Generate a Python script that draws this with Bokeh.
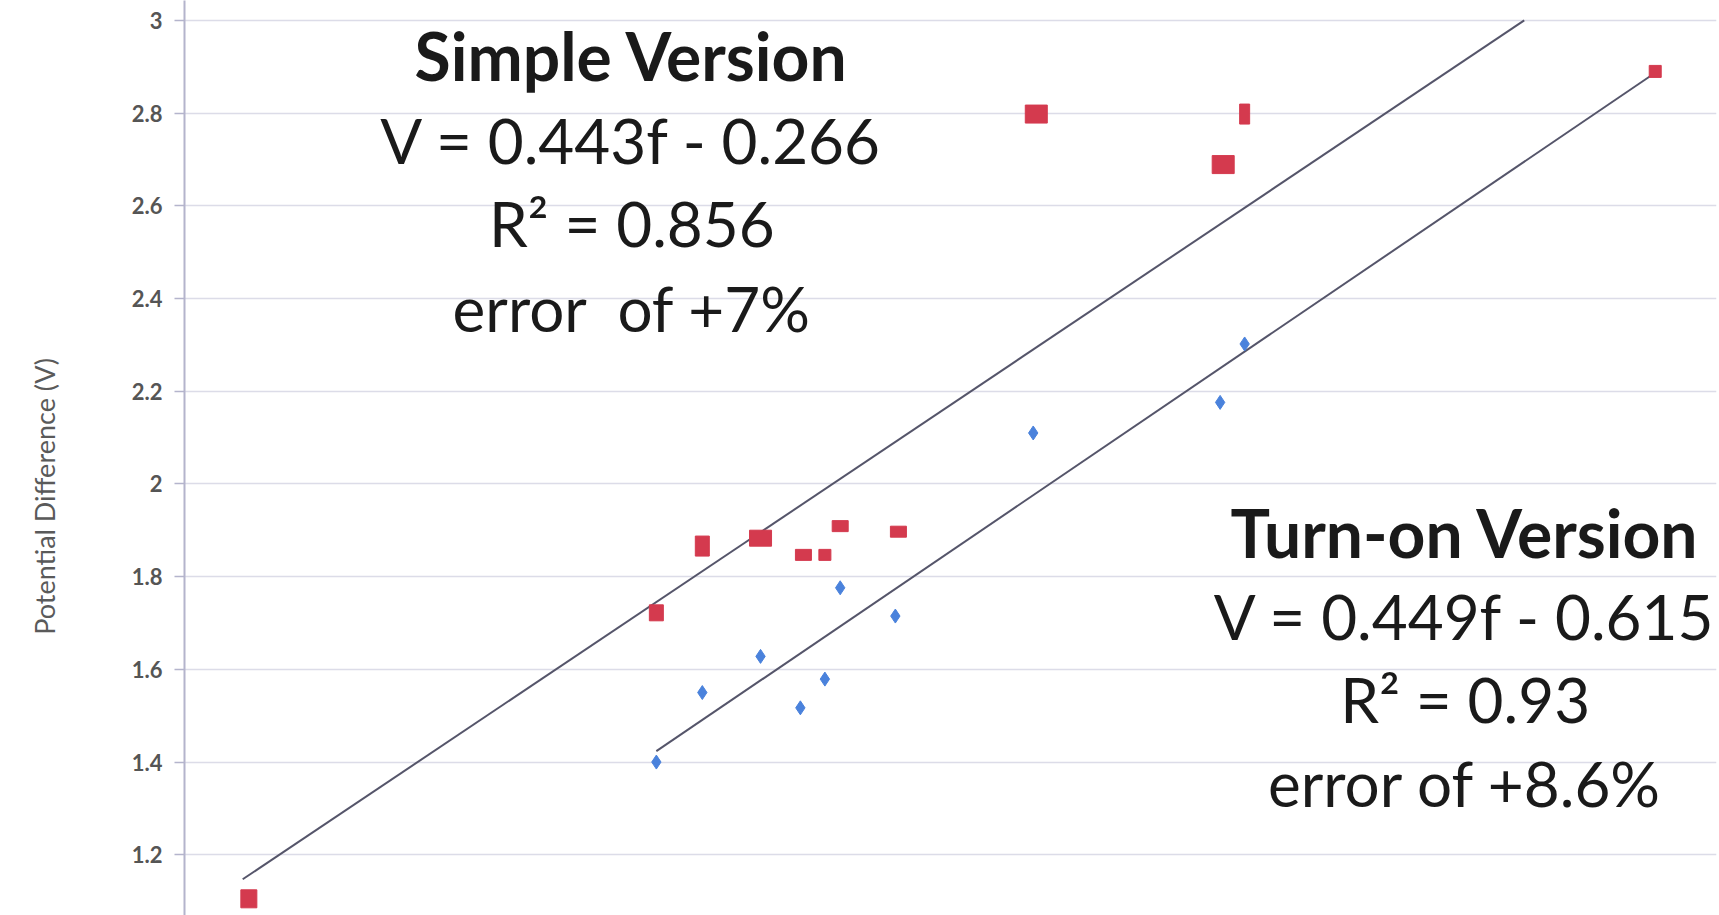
from bokeh.plotting import figure
from bokeh.layouts import row
from bokeh.models import Range1d, Label, ColumnDataSource, FixedTicker
from bokeh.embed import file_html
from bokeh.resources import INLINE
import math

# ---- data (frequency f, potential difference V) ----
simple_f = [3.21, 4.54, 4.69, 4.88, 5.02, 5.09, 5.14, 5.33, 5.78, 6.39, 6.46, 7.80]
simple_v = [1.105, 1.722, 1.866, 1.883, 1.847, 1.847, 1.909, 1.897, 2.798, 2.689, 2.798, 2.890]

turnon_f = [4.54, 4.69, 4.88, 5.01, 5.09, 5.14, 5.32, 5.77, 6.38, 6.46]
turnon_v = [1.400, 1.550, 1.628, 1.517, 1.579, 1.776, 1.715, 2.110, 2.176, 2.302]

# trendline equations shown on the chart
simple_slope, simple_icpt = 0.443, -0.266
turnon_slope, turnon_icpt = 0.449, -0.615
fit_f_min = {"simple": 3.19, "turnon": 4.54}
fit_f_max = 7.80
v_axis_max = 3.0

y_ticks = [1.2, 1.4, 1.6, 1.8, 2.0, 2.2, 2.4, 2.6, 2.8, 3.0]
y_tick_labels = ["1.2", "1.4", "1.6", "1.8", "2", "2.2", "2.4", "2.6", "2.8", "3"]

simple_text = ["Simple Version", "V = 0.443f - 0.266", "R\u00b2 = 0.856", "error\u00a0 of +7%"]
turnon_text = ["Turn-on Version", "V = 0.449f - 0.615", "R\u00b2 = 0.93", "error of +8.6%"]
y_label = "Potential Difference (V)"

# ---- styles ----
red_w = [16, 14, 14, 22, 16, 12, 16, 16, 22, 22, 10, 12]
red_h = [18, 16, 20, 16, 11, 11, 11, 11, 18, 18, 20, 12]

LEFT_W = 100
y_range = Range1d(1.069, 3.043)

p = figure(width=1719 - LEFT_W, height=915, output_backend="svg", toolbar_location=None,
           x_range=Range1d(3.0, 8.0), y_range=y_range,
           min_border_left=184 - LEFT_W, min_border_right=3, min_border_top=0, min_border_bottom=0)
p.outline_line_color = None
p.background_fill_color = "white"
p.border_fill_color = "white"

p.xaxis.visible = False
p.xgrid.visible = False
p.ygrid.grid_line_color = "#dcdce8"
p.ygrid.grid_line_width = 1.5

ya = p.yaxis[0]
ya.ticker = FixedTicker(ticks=y_ticks)
ya.major_label_overrides = {t: s for t, s in zip(y_ticks, y_tick_labels)}
ya.axis_line_color = "#b4b4cc"
ya.axis_line_width = 2
ya.major_tick_line_color = "#b4b4cc"
ya.major_tick_line_width = 1.5
ya.major_tick_out = 10
ya.major_tick_in = 0
ya.minor_tick_line_color = None
ya.major_label_text_font = "Lato"
ya.major_label_text_font_size = "22px"
ya.major_label_text_font_style = "bold"
ya.major_label_text_color = "#555555"
ya.major_label_standoff = 12

# trendlines (clipped at the top of the value axis)
def fit_line(slope, icpt, fmin):
    fmax = min(fit_f_max, (v_axis_max - icpt) / slope)
    fs = [fmin, fmax]
    return fs, [slope * f + icpt for f in fs]

xs, ys = fit_line(simple_slope, simple_icpt, fit_f_min["simple"])
p.line(xs, ys, line_color="#55556a", line_width=2)
xs, ys = fit_line(turnon_slope, turnon_icpt, fit_f_min["turnon"])
p.line(xs, ys, line_color="#55556a", line_width=2)

# points
red_src = ColumnDataSource(dict(x=simple_f, y=simple_v, w=red_w, h=red_h))
p.rect("x", "y", width="w", height="h", width_units="screen", height_units="screen",
       source=red_src, fill_color="#d43a4e", line_color="#d43a4e")
p.scatter(turnon_f, turnon_v, marker="diamond", size=14, fill_color="#4a82dc",
          line_color="#4a82dc")

# annotations
simple_x, turnon_x = 4.46, 7.18
simple_ys = [2.924, 2.742, 2.562, 2.380]
turnon_ys = [1.895, 1.715, 1.535, 1.355]
for i, (t, yy) in enumerate(zip(simple_text, simple_ys)):
    p.add_layout(Label(x=simple_x, y=yy, text=t, text_align="center", text_baseline="middle",
                       text_font="Lato", text_font_size="66px" if i == 0 else "62px",
                       text_font_style="bold" if i == 0 else "normal", text_color="#1a1a1a"))
for i, (t, yy) in enumerate(zip(turnon_text, turnon_ys)):
    p.add_layout(Label(x=turnon_x, y=yy, text=t, text_align="center", text_baseline="middle",
                       text_font="Lato", text_font_size="66px" if i == 0 else "62px",
                       text_font_style="bold" if i == 0 else "normal", text_color="#1a1a1a"))

# left strip carrying the y-axis title
lf = figure(width=LEFT_W, height=915, output_backend="svg", toolbar_location=None,
            x_range=Range1d(0, LEFT_W), y_range=y_range,
            min_border_left=0, min_border_right=0, min_border_top=0, min_border_bottom=0)
lf.axis.visible = False
lf.grid.visible = False
lf.outline_line_color = None
lf.add_layout(Label(x=44, y=1.973, text=y_label, angle=math.pi / 2,
                    text_align="center", text_baseline="middle",
                    text_font="Lato", text_font_size="27px", text_color="#5a5a5a"))

layout = row(lf, p, spacing=0)
open("out.html", "w").write(file_html(layout, INLINE))
